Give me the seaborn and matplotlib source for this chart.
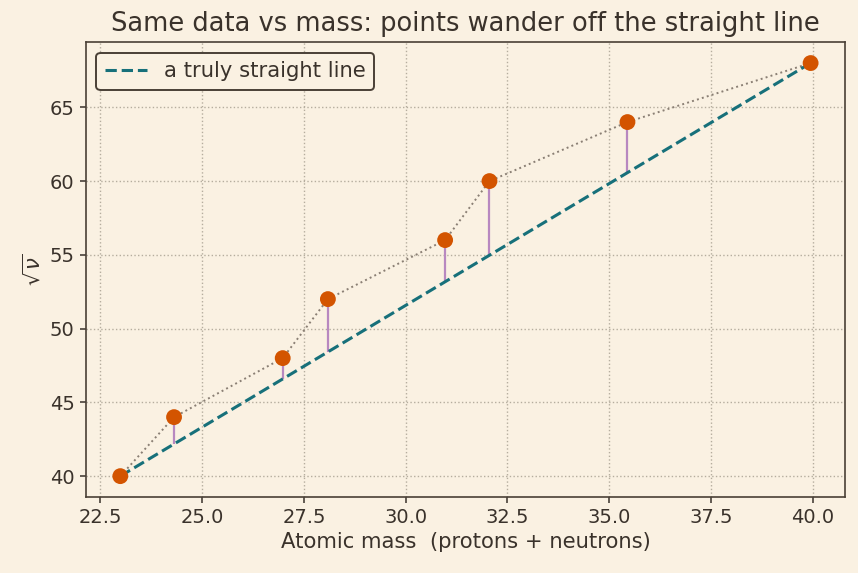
import matplotlib
matplotlib.use("Agg")
import matplotlib.pyplot as plt
import seaborn as sns
import numpy as np
import pandas as pd

mass = [22.99, 24.31, 26.98, 28.09, 30.97, 32.06, 35.45, 39.95]
sqrt_nu = [40, 44, 48, 52, 56, 60, 64, 68]

bg = "#faf1e2"
sns.set_theme(style="ticks")
plt.rcParams.update({
    "figure.facecolor": bg, "axes.facecolor": bg, "savefig.facecolor": bg,
    "axes.edgecolor": "#4a4036", "text.color": "#3a322b",
    "axes.labelcolor": "#3a322b", "xtick.color": "#3a322b", "ytick.color": "#3a322b",
})
plt.rcParams["font.family"] = ["DejaVu Sans"]

df = pd.DataFrame({"mass": mass, "sqrt_nu": sqrt_nu})
m0, m1 = mass[0], mass[-1]
y0, y1 = sqrt_nu[0], sqrt_nu[-1]
df["fit"] = y0 + (df["mass"] - m0) * (y1 - y0) / (m1 - m0)

fig, ax = plt.subplots(figsize=(8.58, 5.73), dpi=100)
ax.grid(True, linestyle=":", color="#b5ad9e", linewidth=1.0)
ax.set_axisbelow(True)

sns.lineplot(data=df, x="mass", y="sqrt_nu", ax=ax, color="#8a7f74", linestyle=":",
             linewidth=1.4, zorder=2, legend=False)
ax.vlines(df["mass"], df["fit"], df["sqrt_nu"], color="#b888c0", linewidth=1.6, zorder=2)
sns.lineplot(data=df, x="mass", y="fit", ax=ax, color="#17707a", linestyle="--",
             linewidth=2.2, zorder=3, label="a truly straight line")
sns.scatterplot(data=df, x="mass", y="sqrt_nu", ax=ax, color="#d35400", s=130,
                edgecolor="none", zorder=4, legend=False)

ax.set_title("Same data vs mass: points wander off the straight line", fontsize=18.5, pad=8)
ax.set_xlabel("Atomic mass  (protons + neutrons)", fontsize=15.2, labelpad=4)
ax.set_ylabel(r"$\sqrt{\nu}$", fontsize=15.2)
ax.tick_params(labelsize=14, width=1.1, length=4.5)
for s in ax.spines.values():
    s.set_linewidth(1.2)
ax.set_xticks(np.arange(22.5, 40.1, 2.5))
ax.set_yticks(np.arange(40, 66, 5))
leg = ax.legend(loc="upper left", fontsize=15.2, frameon=True, fancybox=True,
                edgecolor="#4a4036", facecolor=bg)
leg.get_frame().set_linewidth(1.4)
leg.get_frame().set_alpha(1)

fig.subplots_adjust(left=0.1, right=0.985, top=0.926, bottom=0.133)
fig.savefig("out.png", dpi=100)
